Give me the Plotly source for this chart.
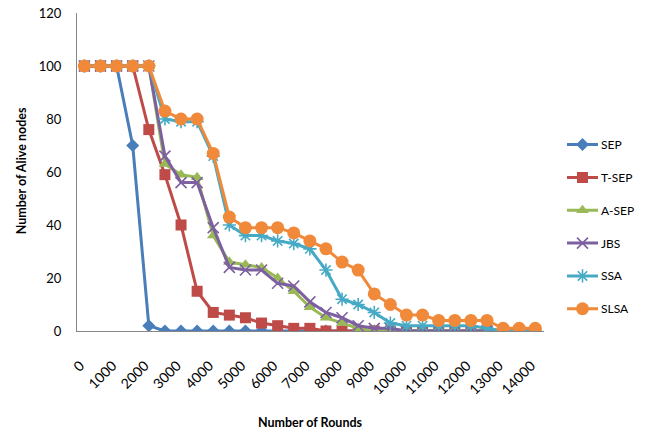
import plotly.graph_objects as go

# Rounds (category positions every 500 rounds)
rounds = [0, 500, 1000, 1500, 2000, 2500, 3000, 3500, 4000, 4500, 5000, 5500,
          6000, 6500, 7000, 7500, 8000, 8500, 9000, 9500, 10000, 10500, 11000,
          11500, 12000, 12500, 13000, 13500, 14000]
tick_rounds = [0, 1000, 2000, 3000, 4000, 5000, 6000, 7000, 8000, 9000, 10000,
               11000, 12000, 13000, 14000]

sep = [100, 100, 100, 70, 2, 0, 0, 0, 0, 0, 0, 0, 0, 0, 0, 0, 0, 0, 0, 0, 0, 0,
       0, 0, 0, 0, 0, 0, 0]
t_sep = [100, 100, 100, 100, 76, 59, 40, 15, 7, 6, 5, 3, 2, 1, 1, 0, 0, 0, 0, 0,
         0, 0, 0, 0, 0, 0, 0, 0, 0]
a_sep = [100, 100, 100, 100, 100, 63, 59, 58, 36, 26, 25, 24, 20, 15, 9, 5, 3, 1,
         0, 0, 0, 0, 0, 0, 0, 0, 0, 0, 0]
jbs = [100, 100, 100, 100, 100, 66, 56, 56, 39, 24, 23, 23, 18, 17, 11, 7, 5, 2,
       1, 1, 0, 0, 0, 0, 0, 0, 0, 0, 0]
ssa = [100, 100, 100, 100, 100, 80, 79, 79, 66, 40, 36, 36, 34, 33, 31, 23, 12,
       10, 7, 3, 2, 2, 2, 2, 2, 1, 0, 0, 0]
slsa = [100, 100, 100, 100, 100, 83, 80, 80, 67, 43, 39, 39, 39, 37, 34, 31, 26,
        23, 14, 10, 6, 6, 4, 4, 4, 4, 1, 1, 1]

names = ["SEP", "T-SEP", "A-SEP", "JBS", "SSA", "SLSA"]
series = [sep, t_sep, a_sep, jbs, ssa, slsa]
colors = ["#4A7EBB", "#BE4B48", "#98B954", "#7D60A0", "#46AAC5", "#F08A3A"]
symbols = ["diamond", "square", "triangle-up", "x-thin-open", "asterisk-open", "circle"]
sizes = [10, 11, 11, 11, 11, 13]

FONT = "Lato, 'Open Sans', sans-serif"
W, H = 649, 437
ML, MR, MT, MB = 77, 5, 10, 105.5
paper_w = W - ML - MR
plot_right = 544
main_dom = (plot_right - ML) / paper_w


def marker_for(i):
    sym = symbols[i]
    m = dict(symbol=sym, size=sizes[i], color=colors[i])
    if sym.endswith("open"):
        m["line"] = dict(width=1.6, color=colors[i])
    else:
        m["line"] = dict(width=0)
    return m


fig = go.Figure()
for i, (name, vals) in enumerate(zip(names, series)):
    fig.add_trace(go.Scatter(
        x=rounds, y=vals, name=name, mode="lines+markers",
        line=dict(color=colors[i], width=3),
        marker=marker_for(i), showlegend=False,
        xaxis="x", yaxis="y",
    ))

# Legend drawn on its own small axes at the right
for i, name in enumerate(names):
    fig.add_trace(go.Scatter(
        x=[0, 1], y=[i, i], mode="lines",
        line=dict(color=colors[i], width=3), showlegend=False,
        xaxis="x2", yaxis="y2", hoverinfo="skip",
    ))
    fig.add_trace(go.Scatter(
        x=[0.5], y=[i], mode="markers", marker=marker_for(i),
        showlegend=False, xaxis="x2", yaxis="y2", hoverinfo="skip",
    ))
    fig.add_annotation(
        x=1, y=i, xref="x2", yref="y2", text=name, showarrow=False,
        xanchor="left", yanchor="middle", xshift=1,
        font=dict(family=FONT, size=12, color="#000000"),
    )


def px_x(px):
    return (px - ML) / paper_w


def px_y(py):
    return (H - MB - py) / (H - MT - MB)


leg_top, leg_bot = 128, 322
first, step = 143, 33.2

fig.update_layout(
    width=W, height=H,
    margin=dict(l=ML, r=MR, t=MT, b=MB),
    paper_bgcolor="white", plot_bgcolor="white",
    font=dict(family=FONT, size=12, color="#000000"),
    xaxis=dict(
        domain=[0, main_dom],
        range=[-230, 14270],
        tickvals=tick_rounds,
        ticktext=[str(t) for t in tick_rounds],
        tickangle=-45,
        tickfont=dict(family=FONT, size=14, color="#000000"),
        showgrid=False, zeroline=False,
        showline=True, linecolor="#868686", linewidth=1,
        ticks="", ticklabelstandoff=20, ticklabelshift=-4,
    ),
    yaxis=dict(
        range=[0, 120],
        tickvals=[0, 20, 40, 60, 80, 100, 120],
        tickfont=dict(family=FONT, size=13, color="#000000"),
        showgrid=False, zeroline=False,
        showline=True, linecolor="#868686", linewidth=1,
        ticks="", ticklabelstandoff=12,
    ),
    xaxis2=dict(
        domain=[px_x(567), px_x(598)], range=[0, 1], anchor="y2",
        visible=False, fixedrange=True,
    ),
    yaxis2=dict(
        domain=[px_y(leg_bot), px_y(leg_top)],
        range=[(leg_bot - first) / step, (leg_top - first) / step],
        anchor="x2", visible=False, fixedrange=True,
    ),
)

fig.add_annotation(
    text="<b>Number of Rounds</b>", xref="paper", yref="paper",
    x=px_x(310), y=px_y(424), showarrow=False,
    xanchor="center", yanchor="middle",
    font=dict(family=FONT, size=12.5, color="#000000"),
)
fig.add_annotation(
    text="<b>Number of Alive nodes</b>", xref="paper", yref="paper",
    x=px_x(21), y=px_y(170), showarrow=False, textangle=-90,
    xanchor="center", yanchor="middle",
    font=dict(family=FONT, size=12.5, color="#000000"),
)

fig.write_html("out.html")
